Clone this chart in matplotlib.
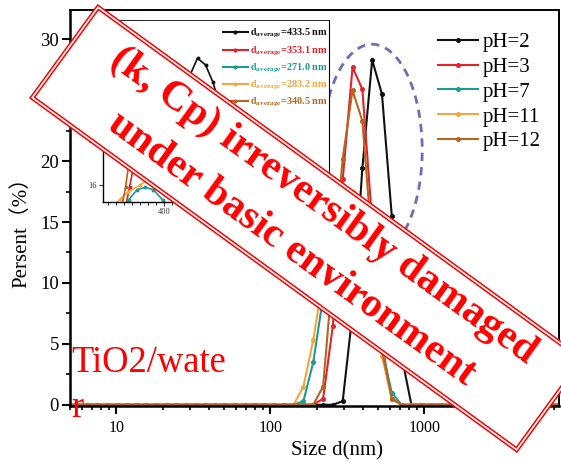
# DLS size distribution of TiO2/water at several pH values, with a stamp overlay
import matplotlib
matplotlib.use("Agg")
import matplotlib.pyplot as plt
from matplotlib.lines import Line2D
from matplotlib.patches import Ellipse, Polygon
from matplotlib.ticker import LogLocator, MultipleLocator, NullFormatter

# Size bins (nm)
SIZE_BINS = [4.849, 5.615, 6.503, 7.531, 8.721, 10.1, 11.7, 13.54, 15.69, 18.17,
             21.04, 24.36, 28.21, 32.67, 37.84, 43.82, 50.75, 58.77, 68.06, 78.82,
             91.28, 105.7, 122.4, 141.8, 164.2, 190.1, 220.2, 255.0, 295.3, 342.0,
             396.1, 458.7, 531.2, 615.1, 712.4, 825.0, 955.4, 1106, 1281, 1484,
             1718, 1990, 2305, 2669, 3091, 3580, 4145, 4801, 5560, 6439, 7456, 8635]

PH_LABELS = ["pH=2", "pH=3", "pH=7", "pH=11", "pH=12"]
COLOURS = ["#111111", "#e4222b", "#1e9a92", "#f3a63e", "#b4661f"]

PERCENT_PH2 = [0, 0, 0, 0, 0, 0, 0, 0, 0, 0, 0, 0, 0, 0, 0, 0, 0, 0, 0, 0, 0, 0, 0,
               0, 0, 0, 0, 0, 0.3, 7.5, 19.4, 28.3, 25.5, 15.5, 4.0, 0,
               0, 0, 0, 0, 0, 0, 0, 0, 0, 0, 0, 0, 0, 0, 0, 0]
PERCENT_PH3 = [0, 0, 0, 0, 0, 0, 0, 0, 0, 0, 0, 0, 0, 0, 0, 0, 0, 0, 0, 0, 0, 0, 0,
               0, 0, 0, 0.5, 6.5, 18.5, 27.7, 25.9, 15.0, 5.0, 0.5, 0, 0,
               0, 0, 0, 0, 0, 0, 0, 0, 0, 0, 0, 0, 0, 0, 0, 0]
PERCENT_PH7 = [0, 0, 0, 0, 0, 0, 0, 0, 0, 0, 0, 0, 0, 0, 0, 0, 0, 0, 0, 0, 0, 0, 0,
               0, 0.3, 3.5, 8.8, 15.0, 16.5, 17.0, 15.5, 10.0, 4.5, 1.0, 0, 0,
               0, 0, 0, 0, 0, 0, 0, 0, 0, 0, 0, 0, 0, 0, 0, 0]
PERCENT_PH11 = [0, 0, 0, 0, 0, 0, 0, 0, 0, 0, 0, 0, 0, 0, 0, 0, 0, 0, 0, 0, 0, 0, 0,
                0, 1.5, 5.3, 10.4, 16.0, 18.0, 17.5, 15.0, 10.0, 4.0, 0.5, 0, 0,
                0, 0, 0, 0, 0, 0, 0, 0, 0, 0, 0, 0, 0, 0, 0, 0]
PERCENT_PH12 = [0, 0, 0, 0, 0, 0, 0, 0, 0, 0, 0, 0, 0, 0, 0, 0, 0, 0, 0, 0, 0, 0, 0,
                0, 0, 0, 1.5, 11.0, 20.2, 25.8, 23.3, 13.0, 4.5, 0.5, 0, 0,
                0, 0, 0, 0, 0, 0, 0, 0, 0, 0, 0, 0, 0, 0, 0, 0]

# Inset (zoom on the peaks, linear size axis)
D_AVERAGE = ["433.5", "353.1", "271.0", "283.2", "340.5"]
INSET_SIZE_PH2 = [445, 462, 483, 503, 521, 540]
INSET_PH2 = [23.8, 25.6, 27.3, 26.7, 25.2, 23.0]
INSET_SIZE_PH3 = [306, 314, 322, 332]
INSET_PH3 = [14.4, 15.8, 17.3, 19.0]
INSET_SIZE_PH7 = [300, 312, 333, 353, 373, 396, 405]
INSET_PH7 = [14.2, 14.7, 15.6, 15.8, 15.6, 14.7, 14.2]
INSET_SIZE_PH11 = [275, 292, 311, 340, 380, 430]
INSET_PH11 = [14.2, 14.8, 15.4, 16.0, 17.0, 18.5]
INSET_SIZE_PH12 = [296, 304, 311, 320]
INSET_PH12 = [14.3, 15.8, 17.6, 19.5]

STAMP_TEXT = "(k, Cp) irreversibly damaged\nunder basic environment"
NOTE_LINES = ["TiO2/wate", "r"]

W, H = 561, 461
SERIF = "Liberation Serif"
plt.rcParams["font.family"] = [SERIF, "Noto Sans CJK SC", "DejaVu Sans"]
plt.rcParams["mathtext.fontset"] = "stix"


def px(x, y):
    # pixel position (y down) -> figure fraction
    return x / W, 1 - y / H


fig = plt.figure(figsize=(W / 100, H / 100), dpi=100)
ax = fig.add_axes([70 / W, 1 - 406 / H, 489 / W, 396 / H])

series = [PERCENT_PH2, PERCENT_PH3, PERCENT_PH7, PERCENT_PH11, PERCENT_PH12]
for values, colour, label in zip(series, COLOURS, PH_LABELS):
    ax.plot(SIZE_BINS, values, color=colour, lw=1.5, marker="o", ms=2.6,
            mec=colour, label=label)

ax.set_xscale("log")
ax.set_xlim(5, 7500)
ax.set_ylim(-0.1, 32.4)
ax.set_xticks([10, 100, 1000], labels=["10", "100", "1000"])
ax.xaxis.set_minor_locator(LogLocator(base=10, subs=range(2, 10)))
ax.xaxis.set_minor_formatter(NullFormatter())
ax.set_yticks([0, 5, 10, 15, 20, 25, 30])
ax.yaxis.set_minor_locator(MultipleLocator(2.5))
ax.tick_params(axis="x", which="major", direction="out", length=6, width=1.5,
               labelsize=11.5, pad=4)
ax.tick_params(axis="y", which="major", direction="out", length=6, width=1.5,
               labelsize=13.5, pad=2)
ax.tick_params(which="minor", direction="out", length=3, width=1.2)
for side in ["left", "bottom"]:
    ax.spines[side].set_linewidth(1.8)
for side in ["top", "right"]:
    ax.spines[side].set_linewidth(1.4)

ax.set_xlabel("Size d(nm)", fontsize=15)
ax.xaxis.set_label_coords(0.546, -0.09)
ax.set_ylabel("Persent（%）", fontsize=15)
ax.yaxis.set_label_coords(-0.08, 0.45)

ax.legend(loc="upper left", bbox_to_anchor=(0.7526, 0.943), frameon=False,
          fontsize=15, handlelength=1.9, handletextpad=0.25, labelspacing=0.25,
          borderpad=0, borderaxespad=0)

# Dashed ellipse round the peaks
ax.add_patch(Ellipse((0.618, 0.646), 0.2045, 0.535, transform=ax.transAxes,
                     fill=False, edgecolor="#6e6db5", lw=2, ls=(0, (3, 2.2)),
                     zorder=5))

# Inset
ins = fig.add_axes([103 / W, 1 - 202 / H, 226 / W, 182 / H])
inset_x = [INSET_SIZE_PH2, INSET_SIZE_PH3, INSET_SIZE_PH7, INSET_SIZE_PH11, INSET_SIZE_PH12]
inset_y = [INSET_PH2, INSET_PH3, INSET_PH7, INSET_PH11, INSET_PH12]
for xs, ys, colour in zip(inset_x, inset_y, COLOURS):
    ins.plot(xs, ys, color=colour, lw=1.2, marker="o", ms=1.8, mec=colour)
ins.set_xlim(248, 810)
ins.set_ylim(14.5, 30.7)
ins.set_xticks([400, 600])
ins.xaxis.set_minor_locator(MultipleLocator(20))
ins.set_yticks([16, 20, 24, 28])
ins.tick_params(direction="out", length=3, width=0.8, labelsize=6, pad=1.5,
                colors="#333333")
ins.tick_params(which="minor", direction="out", length=1.8, width=0.6)
ins.spines["left"].set_linewidth(1.0)
ins.spines["bottom"].set_linewidth(1.0)
ins.spines["top"].set_linewidth(0.6)
ins.spines["right"].set_linewidth(0.8)

handles = [Line2D([0], [0], color=c, lw=1.5, marker="o", ms=2) for c in COLOURS]
labels = [r"$\mathbf{d_{average}}$=" + d + " nm" for d in D_AVERAGE]
ins.legend(handles, labels, loc="upper right", bbox_to_anchor=(1.0, 0.965),
           frameon=False, prop={"family": SERIF, "weight": "bold", "size": 7.4},
           handlelength=2.4, handletextpad=0.25, labelspacing=0.4,
           borderpad=0, borderaxespad=0.1, labelcolor="linecolor")

# Stamp: white rotated box with a double red border
cx, cy = 307.35, 228.5
ux, uy = 0.8089, 0.5880
vx, vy = -0.5885, 0.8085


def stamp_corners(a, b):
    pts = []
    for sa, sb in [(-1, -1), (1, -1), (1, 1), (-1, 1)]:
        x = cx + sa * a * ux + sb * b * vx
        y = cy + sa * a * uy + sb * b * vy
        pts.append(px(x, y))
    return pts


fig.add_artist(Polygon(stamp_corners(301.0, 57.5), closed=True,
                       transform=fig.transFigure, facecolor="white",
                       edgecolor="#ff0000", lw=1.1, zorder=10))
fig.add_artist(Polygon(stamp_corners(297.8, 54.3), closed=True,
                       transform=fig.transFigure, facecolor="none",
                       edgecolor="#ff0000", lw=1.1, zorder=11))
fig.text(*px(307.5, 227.5), STAMP_TEXT, rotation=-35.7, rotation_mode="anchor",
         ha="center", va="center", multialignment="center", fontsize=30,
         fontweight="bold", family=SERIF, color="#ff0000", linespacing=1.52,
         zorder=12)

# Wrapped note, one text per line (baselines at 372 and 417 px)
for line, base_y in zip(NOTE_LINES, [372, 417]):
    fig.text(*px(71, base_y), line, ha="left", va="baseline", fontsize=26.3,
             family=SERIF, color="#ff0000", zorder=12)

fig.savefig("out.png", dpi=100)
